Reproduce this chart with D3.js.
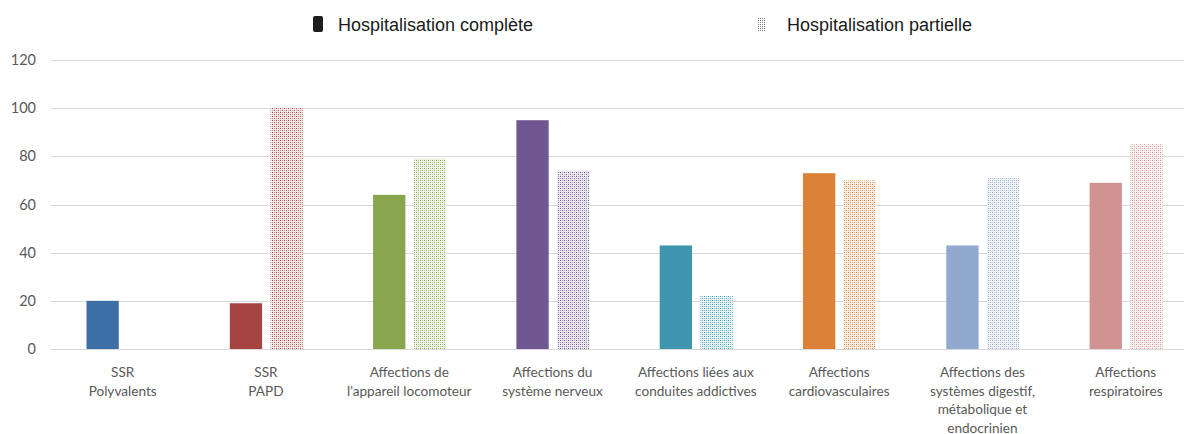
<!DOCTYPE html>
<html>
<head>
<meta charset="utf-8">
<script src="https://cdn.jsdelivr.net/npm/d3@7"></script>
<style>
  html, body { margin: 0; padding: 0; background: #fff; }
  svg { display: block; }
</style>
</head>
<body>
<svg id="chart" width="1184" height="434"></svg>
<script>
// ---- Data ----
const categories = [
  ["SSR", "Polyvalents"],
  ["SSR", "PAPD"],
  ["Affections de", "l'appareil locomoteur"],
  ["Affections du", "système nerveux"],
  ["Affections liées aux", "conduites addictives"],
  ["Affections", "cardiovasculaires"],
  ["Affections des", "systèmes digestif,", "métabolique et", "endocrinien"],
  ["Affections", "respiratoires"]
];
const seriesNames = ["Hospitalisation complète", "Hospitalisation partielle"];
const complete = [20, 19, 64, 95, 43, 73, 43, 69];
const partial = [null, 100, 79, 74, 22, 70, 71, 85];
const colors = ["#3d6fa6", "#a64441", "#89a54e", "#6f5792", "#3e97af", "#dc8238", "#91a8cf", "#d19392"];
const yTicks = [0, 20, 40, 60, 80, 100, 120];

// ---- Layout ----
const svg = d3.select("#chart");
const left = 51, step = 143.3;
const y0 = 349, yTop = 60;

const x = d3.scaleBand()
  .domain(d3.range(categories.length))
  .range([left, left + step * categories.length])
  .padding(0);
const sub = d3.scaleBand()
  .domain([0, 1])
  .range([35.5, 108.5])
  .paddingInner(0.207);
const y = d3.scaleLinear().domain([0, 120]).range([y0, yTop]);

// patterns
const defs = svg.append("defs");
colors.forEach((c, i) => {
  const p = defs.append("pattern")
    .attr("id", "pat" + i)
    .attr("patternUnits", "userSpaceOnUse")
    .attr("width", 4).attr("height", 4);
  p.append("rect").attr("width", 4).attr("height", 4).attr("fill", "#fff");
  p.append("rect").attr("width", 4).attr("height", 4).attr("fill", c).attr("opacity", 0.12);
  p.append("rect").attr("x", 0).attr("y", 0).attr("width", 1).attr("height", 1).attr("fill", c);
  p.append("rect").attr("x", 2).attr("y", 2).attr("width", 1).attr("height", 1).attr("fill", c).attr("opacity", 0.9);
  p.append("rect").attr("x", 0).attr("y", 2).attr("width", 1).attr("height", 1).attr("fill", c).attr("opacity", 0.55);
  p.append("rect").attr("x", 2).attr("y", 0).attr("width", 1).attr("height", 1).attr("fill", c).attr("opacity", 0.55);
});
{
  const p = defs.append("pattern")
    .attr("id", "patLegend")
    .attr("patternUnits", "userSpaceOnUse")
    .attr("width", 2).attr("height", 2);
  p.append("rect").attr("width", 2).attr("height", 2).attr("fill", "#fff");
  p.append("rect").attr("width", 1).attr("height", 1).attr("fill", "#777");
}

// gridlines
svg.append("g")
  .selectAll("line")
  .data(yTicks)
  .join("line")
  .attr("x1", left).attr("x2", 1184)
  .attr("y1", d => Math.round(y(d)) + 0.5)
  .attr("y2", d => Math.round(y(d)) + 0.5)
  .attr("stroke", "#d9d9d9")
  .attr("stroke-width", 1);

// y axis labels
const yAxis = d3.axisLeft(y).tickValues(yTicks).tickSize(0).tickPadding(0);
const yg = svg.append("g").attr("transform", "translate(36,0)").call(yAxis);
yg.select(".domain").remove();
yg.selectAll("text")
  .attr("font-family", "Lato, 'Open Sans', sans-serif")
  .attr("font-size", 14.5)
  .attr("fill", "#595959");

// bars
const g = svg.append("g");
categories.forEach((cat, i) => {
  const vals = [complete[i], partial[i]];
  vals.forEach((v, s) => {
    if (v == null) return;
    const bx = x(i) + sub(s);
    const by = y(v);
    g.append("rect")
      .attr("x", bx)
      .attr("y", by)
      .attr("width", sub.bandwidth())
      .attr("height", y(0) - by)
      .attr("fill", s === 0 ? colors[i] : `url(#pat${i})`);
  });
});

// category labels
const lg = svg.append("g")
  .attr("font-family", "Lato, 'Open Sans', sans-serif")
  .attr("font-size", 13.6)
  .attr("fill", "#595959")
  .attr("text-anchor", "middle");
categories.forEach((lines, i) => {
  const t = lg.append("text")
    .attr("x", x(i) + x.bandwidth() / 2)
    .attr("y", 377);
  lines.forEach((ln, k) => {
    t.append("tspan")
      .attr("x", x(i) + x.bandwidth() / 2)
      .attr("dy", k === 0 ? 0 : 18.7)
      .text(ln);
  });
});

// legend
const leg = svg.append("g")
  .attr("font-family", "'Liberation Sans', Arial, sans-serif")
  .attr("font-size", 18)
  .attr("fill", "#1a1a1a");
leg.append("rect").attr("x", 313).attr("y", 16).attr("width", 10).attr("height", 16)
  .attr("rx", 2).attr("fill", "#1e1e1e");
leg.append("text").attr("x", 338).attr("y", 31).text(seriesNames[0]);
leg.append("rect").attr("x", 758).attr("y", 17).attr("width", 8).attr("height", 15)
  .attr("fill", "url(#patLegend)");
leg.append("text").attr("x", 787).attr("y", 31).text(seriesNames[1]);
</script>
</body>
</html>
